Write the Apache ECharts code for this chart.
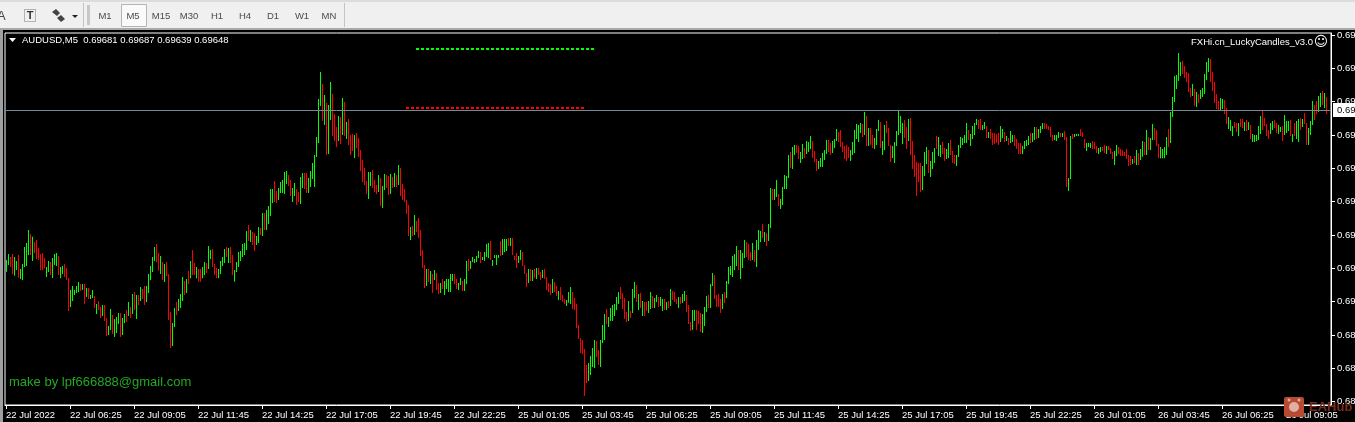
<!DOCTYPE html>
<html>
<head>
<meta charset="utf-8">
<style>html,body{margin:0;padding:0;background:#000;overflow:hidden}#c{width:1355px;height:422px}</style>
<script src="https://cdn.jsdelivr.net/npm/echarts@6/dist/echarts.min.js"></script>
</head>
<body>
<div id="c"></div>
<script>
// Prices are in points above 0.68000 (1 point = 0.00001)
const highs = [
1198,1216,1207,1216,1207,1195,1213,1171,1186,1237,1249,1288,1276,1268,1252,1258,1234,1216,1219,1204,1177,1195,1192,1204,1216,1219,1210,1177,1180,1186,
1174,1144,1108,1120,1108,1120,1132,1126,1126,1126,1114,1114,1093,1108,1090,1066,1075,1057,1063,1063,1024,1000,1051,1033,1021,1027,1039,1039,1024,1036,
1048,1072,1057,1096,1102,1093,1093,1117,1111,1120,1120,1156,1180,1207,1237,1246,1219,1210,1192,1186,1192,1156,1042,1009,1054,1072,1081,1096,1147,1135,1141,1165,
1195,1228,1189,1177,1171,1171,1177,1192,1189,1240,1228,1231,1186,1174,1171,1195,1207,1231,1237,1234,1237,1213,1168,1192,1222,1225,1246,1249,1285,1303,
1288,1282,1279,1270,1297,1294,1339,1339,1348,1360,1411,1411,1435,1405,1414,1432,1438,1462,1465,1453,1438,1414,1429,1411,1402,1447,1459,1459,1459,1444,
1465,1489,1513,1567,1681,1762,1726,1693,1669,1663,1732,1696,1636,1597,1630,1627,1684,1672,1612,1621,1573,1576,1573,1579,1564,1528,1498,1474,1435,1462,1462,1468,1438,1423,1453,
1444,1420,1456,1453,1450,1456,1447,1459,1453,1483,1474,1426,1411,1378,1363,1297,1300,1333,1315,1324,1288,1228,1183,1171,1171,1165,1156,1168,1159,1129,
1129,1141,1135,1141,1141,1156,1156,1156,1141,1129,1144,1135,1141,1195,1201,1195,1207,1201,1210,1225,1222,1207,1222,1246,1249,1255,1198,1213,1213,1213,
1255,1261,1261,1261,1264,1264,1264,1210,1219,1210,1228,1222,1183,1159,1171,1171,1168,1171,1174,1174,1162,1168,1171,1147,1129,1126,1141,1132,1120,1105,1117,1093,1081,1078,1102,
1117,1102,1084,1066,1003,964,958,931,883,889,910,934,958,955,928,958,1003,1036,1051,1027,1054,1063,1066,1087,1102,1117,1099,1084,1042,1075,
1045,1111,1132,1123,1096,1099,1075,1072,1072,1075,1102,1090,1084,1093,1087,1087,1081,1081,1072,1075,1111,1105,1102,1081,1087,1087,1096,1105,1093,1063,
1012,1048,1048,1048,1045,1039,1036,1057,1090,1093,1126,1159,1153,1093,1096,1081,1096,1102,1135,1177,1180,1210,1216,1240,1228,1228,1219,1258,1252,1246,1222,1249,1228,1258,1288,
1285,1306,1282,1279,1306,1414,1411,1411,1438,1396,1381,1417,1453,1450,1513,1522,1537,1543,1543,1540,1522,1546,1534,1555,1552,1570,1555,1525,1501,1495,
1504,1519,1528,1558,1558,1549,1555,1561,1591,1582,1588,1552,1540,1543,1537,1528,1552,1588,1606,1603,1609,1606,1642,1630,1594,1594,1573,1564,1591,1618,
1612,1555,1603,1615,1594,1543,1540,1552,1585,1645,1630,1609,1618,1597,1621,1624,1555,1513,1492,1489,1489,1480,1522,1537,1528,1495,1522,1534,1570,1567,1543,1552,1534,1531,1549,
1558,1525,1513,1513,1543,1567,1564,1573,1609,1588,1576,1600,1609,1621,1618,1621,1603,1612,1600,1582,1591,1579,1579,1576,1579,1600,1591,1582,1570,1564,
1585,1573,1573,1561,1549,1549,1540,1555,1558,1570,1579,1579,1597,1597,1591,1600,1609,1609,1606,1600,1597,1573,1573,1573,1582,1579,1579,1585,1567,1444,
1570,1576,1576,1576,1576,1591,1582,1561,1549,1549,1549,1555,1552,1540,1534,1537,1537,1543,1540,1540,1534,1522,1525,1543,1537,1531,1528,1522,1531,1513,1510,1501,1510,1528,1519,
1531,1555,1552,1588,1567,1564,1606,1594,1588,1546,1537,1531,1537,1567,1591,1642,1687,1750,1753,1819,1792,1795,1780,1762,1759,1714,1726,1711,1702,1696,
1708,1714,1756,1792,1804,1801,1762,1732,1696,1675,1684,1681,1678,1654,1627,1618,1600,1612,1609,1609,1621,1621,1612,1618,1612,1603,1576,1573,1573,1600,
1630,1648,1624,1606,1588,1609,1615,1618,1609,1603,1597,1600,1633,1615,1615,1618,1576,1609,1615,1621,1624,1621,1639,1609,1594,1615,1675,1663,1675,1690,1699,1705,1699,1687
];
const lows = [
1163,1183,1178,1156,1151,1168,1145,1141,1138,1177,1180,1213,1213,1195,1219,1201,1198,1167,1168,1173,1147,1162,1153,1144,1183,1180,1153,1143,1156,1147,
1138,1045,1057,1075,1093,1099,1102,1105,1108,1066,1087,1081,1081,1084,1054,1036,1048,1024,1030,1015,970,973,988,976,967,979,1006,967,973,1009,
1012,1030,1024,1036,1048,1021,1063,1075,1081,1063,1072,1099,1138,1162,1195,1192,1166,1156,1138,1132,1150,1018,934,940,997,1033,1045,1054,1075,1093,1099,1126,
1143,1153,1153,1143,1133,1133,1143,1153,1158,1171,1201,1177,1153,1143,1143,1156,1180,1189,1207,1189,1189,1153,1133,1162,1177,1195,1207,1213,1228,1255,
1252,1243,1225,1243,1249,1273,1270,1288,1288,1306,1330,1369,1372,1369,1378,1399,1399,1396,1426,1420,1390,1372,1390,1363,1372,1366,1414,1411,1399,1399,
1417,1441,1417,1507,1549,1660,1615,1603,1513,1516,1618,1570,1555,1537,1555,1546,1573,1570,1561,1543,1513,1525,1504,1534,1507,1465,1432,1423,1396,1381,1420,1414,1402,1396,1402,
1360,1354,1408,1414,1393,1396,1414,1417,1417,1423,1390,1378,1372,1336,1270,1258,1270,1273,1282,1264,1210,1174,1114,1120,1132,1126,1099,1138,1108,1096,
1099,1111,1093,1111,1102,1102,1135,1126,1111,1108,1123,1105,1105,1126,1165,1171,1192,1189,1192,1204,1189,1198,1195,1207,1204,1198,1180,1204,1183,1204,
1210,1213,1222,1225,1240,1240,1213,1198,1174,1189,1198,1180,1156,1117,1129,1135,1135,1144,1141,1153,1138,1144,1141,1108,1102,1093,1099,1102,1090,1078,1078,1073,1066,1060,1070,
1066,1051,1048,994,961,919,916,790,829,835,853,877,874,907,883,877,949,958,1006,997,1015,1015,1030,1048,1066,1081,1051,1021,1012,1015,
1024,1039,1084,1072,1048,1054,1030,1030,1045,1039,1051,1054,1054,1072,1057,1060,1045,1048,1048,1054,1060,1078,1072,1066,1054,1066,1069,1075,1042,1006,
985,988,1015,988,1006,982,979,1000,1042,1054,1054,1120,1081,1057,1057,1039,1051,1069,1084,1126,1153,1147,1168,1180,1168,1141,1174,1204,1207,1198,1195,1198,1192,1177,1228,
1252,1264,1252,1240,1255,1294,1378,1378,1387,1360,1351,1363,1411,1411,1444,1474,1471,1513,1519,1501,1489,1501,1504,1516,1522,1531,1504,1492,1465,1471,
1477,1477,1498,1516,1522,1513,1519,1534,1555,1552,1537,1522,1501,1495,1504,1495,1513,1519,1561,1552,1579,1567,1573,1540,1540,1543,1534,1531,1543,1585,
1534,1513,1528,1579,1540,1492,1504,1489,1540,1573,1579,1546,1564,1531,1555,1513,1471,1447,1390,1432,1402,1408,1450,1486,1459,1447,1471,1489,1531,1510,1507,1516,1495,1501,1504,
1513,1489,1486,1480,1507,1534,1543,1549,1549,1558,1540,1561,1573,1603,1591,1588,1588,1591,1564,1564,1561,1543,1546,1549,1543,1552,1564,1552,1555,1543,
1549,1552,1540,1531,1516,1516,1516,1531,1540,1543,1549,1552,1558,1561,1564,1579,1591,1591,1591,1588,1567,1555,1558,1555,1564,1567,1567,1558,1417,1405,
1441,1561,1567,1570,1570,1570,1567,1534,1525,1537,1534,1531,1531,1519,1516,1522,1525,1519,1516,1528,1516,1501,1483,1510,1516,1510,1510,1510,1501,1480,1483,1486,1489,1483,1483,
1498,1508,1513,1513,1528,1528,1558,1558,1540,1503,1503,1503,1503,1513,1537,1549,1627,1672,1711,1735,1750,1756,1744,1732,1702,1687,1690,1660,1657,1669,
1681,1687,1696,1738,1762,1732,1705,1669,1651,1645,1648,1651,1636,1606,1591,1585,1570,1594,1582,1570,1597,1594,1585,1585,1588,1561,1552,1552,1555,1558,
1576,1588,1600,1570,1561,1576,1588,1594,1579,1576,1582,1555,1573,1579,1585,1570,1552,1570,1561,1552,1588,1597,1606,1543,1543,1573,1603,1618,1636,1642,1657,1663,1654,1636
];
const directions = (
"GGRRGGRGGG" + "GGRGRRRRRR" + "GGRGGGRGGR" + "RRGGGGGRGR" + "GRGGRGRRGR" + "RGGRGGGRGG" + "RGRGRGRGRR" + "GGGGGRRGRG" + "RRRGGRGGGR" + "GR" +
"GRRGRRGGRG" + "GRRRGGGGRG" + "RRGGGGGGGR" + "GRRGGRGRGG" + "GGRRGGGGGR" + "RGGRRGGRRG" + "GGGGGGRGRG" + "GRRRGRGRGR" + "RRGRRRRRRG" + "GRRRG" +
"RGGRRGRGRG" + "RRRRRGRGRR" + "RRRGRGRGRR" + "GRGGGGGRRG" + "GRGGRGGGGG" + "RGGGGRGGGG" + "RGGGRGRRRG" + "GRRRGRGRGR" + "RGRRRRGRRG" + "RRRGG" +
"GRRRRRRRRG" + "GGGRRGGGRG" + "GGGGGRRRRG" + "RGGRGRGRRG" + "GRGGRGGRGR" + "GRRRGRGGRR" + "RGGRRRGGGR" + "GGRRRRGRGG" + "GGGGRGGGRR" + "RGRGG" +
"GRGRGGRGGR" + "GGGGGRGGRR" + "GGRGGGRRRG" + "GGGGRRGGGR" + "RRRRRGGGGG" + "GRGRGRRGGG" + "RGGRRRGGGG" + "GGRRGRRRRR" + "RGGGRGGGRG" + "GRRGG" +
"RRRGGGGGGR" + "GGGGRRGGRG" + "RRRRRGGRGR" + "GGRRRRGGGG" + "RGGRGGGRRR" + "RRGGGRGRRG" + "GRGGGRRRGG" + "GRRRGGRRGR" + "RRGGRRRRRR" + "RGRGR" +
"GGRGRGGRRR" + "GGGGRGGGGG" + "GRRRRRGRGR" + "GGGGGRRRRR" + "GGRRGGGRRG" + "RRGRGRGGGG" + "GRRRRGGRRG" + "GRGGGRGRGG" + "RGRRGGGRRG" + "GRGR"
).split("");

const slotCount = 663;
const tickEvery = 32;
const xTickLabels = ["22 Jul 2022","22 Jul 06:25","22 Jul 09:05","22 Jul 11:45","22 Jul 14:25","22 Jul 17:05","22 Jul 19:45","22 Jul 22:25","25 Jul 01:05","25 Jul 03:45","25 Jul 06:25","25 Jul 09:05","25 Jul 11:45","25 Jul 14:25","25 Jul 17:05","25 Jul 19:45","25 Jul 22:25","26 Jul 01:05","26 Jul 03:45","26 Jul 06:25","26 Jul 09:05"];
const yTickValues = [1873,1773,1673,1573,1473,1373,1273,1173,1073,973,873,773];
const yTickLabels = ["0.69","0.69","0.69","0.69","0.69","0.69","0.69","0.69","0.69","0.68","0.68","0.68"];
const currentPrice = 1648;
const greenSignal = {from: 205, to: 295, price: 1831};
const redSignal = {from: 200, to: 290, price: 1654};
const headerText = "AUDUSD,M5  0.69681 0.69687 0.69639 0.69648";
const indicatorText = "FXHi.cn_LuckyCandles_v3.0";
const makerText = "make by lpf666888@gmail.com";
const periods = ["M1","M5","M15","M30","H1","H4","D1","W1","MN"];

const FONT = '"Liberation Sans",sans-serif';
const SMALL = 9.5;
const categories = [];
for (let i = 0; i < slotCount; i++) categories.push(i % tickEvery === 0 ? xTickLabels[i / tickEvery] : "b" + i);
const barData = highs.map((h, i) => [i, lows[i], h, directions[i] === "G" ? 1 : 0]);

const chart = echarts.init(document.getElementById("c"), null, {renderer: "canvas", width: 1355, height: 422});

const grayText = "#4a4a4a";
const graphics = [
  {type: "rect", shape: {x: 0, y: 0, width: 1355, height: 28}, style: {fill: "#f0f0f0"}, z: 1},
  {type: "rect", shape: {x: 0, y: 0, width: 1355, height: 2}, style: {fill: "#dcdcdc"}, z: 2},
  {type: "rect", shape: {x: 0, y: 28, width: 1355, height: 2}, style: {fill: "#a8a8a8"}, z: 2},
  {type: "rect", shape: {x: 0, y: 30, width: 3, height: 392}, style: {fill: "#a0a0a0"}, z: 2},
  {type: "rect", shape: {x: 83, y: 3, width: 1, height: 24}, style: {fill: "#c4c4c4"}, z: 2},
  {type: "rect", shape: {x: 87, y: 5, width: 3, height: 20}, style: {fill: "#c8c8c8"}, z: 2},
  {type: "rect", shape: {x: 344, y: 3, width: 1, height: 24}, style: {fill: "#c4c4c4"}, z: 2},
  {type: "rect", shape: {x: 121.5, y: 4.5, width: 25, height: 22}, style: {fill: "#fafafa", stroke: "#b4b4b4"}, z: 2},
  {type: "text", style: {x: -3, y: 16, text: "A", fill: grayText, font: "13px " + FONT, verticalAlign: "middle"}, z: 3},
  {type: "rect", shape: {x: 24.5, y: 9.5, width: 11, height: 12}, style: {fill: "none", stroke: "#777", lineDash: [1, 1]}, z: 3},
  {type: "text", style: {x: 30, y: 16, text: "T", fill: "#333", font: "bold 11px " + FONT, align: "center", verticalAlign: "middle"}, z: 3},
  {type: "polygon", shape: {points: [[52,12],[56,9],[60,13],[57,16]]}, style: {fill: "#444"}, z: 3},
  {type: "polygon", shape: {points: [[57,18],[61,15],[65,19],[61,22]]}, style: {fill: "#444"}, z: 3},
  {type: "polygon", shape: {points: [[72,15],[78,15],[75,18]]}, style: {fill: "#222"}, z: 3},
  {type: "polygon", shape: {points: [[9,38],[16,38],[12.5,42]]}, style: {fill: "#fff"}, z: 30},
  {type: "text", style: {x: 22, y: 40.5, text: headerText, fill: "#fff", font: SMALL + "px " + FONT, verticalAlign: "middle", whiteSpace: "pre"}, z: 30},
  {type: "text", style: {x: 1313, y: 42, text: indicatorText, fill: "#fff", font: SMALL + "px " + FONT, align: "right", verticalAlign: "middle"}, z: 30},
  {type: "text", style: {x: 1321, y: 42, text: "\u263A", fill: "#fff", font: '14px "DejaVu Sans"', align: "center", verticalAlign: "middle"}, z: 30},
  {type: "text", style: {x: 9, y: 382, text: makerText, fill: "#22a822", font: '13px "Liberation Sans"', verticalAlign: "middle"}, z: 30},
  {type: "rect", shape: {x: 1284, y: 397, width: 20, height: 20, r: 2}, style: {fill: "#b84a32"}, z: 40},
  {type: "circle", shape: {cx: 1294, cy: 407, r: 5}, style: {fill: "#e0b0a4"}, z: 41},
  {type: "circle", shape: {cx: 1289, cy: 400, r: 1.5}, style: {fill: "#e0b0a4"}, z: 41},
  {type: "circle", shape: {cx: 1299, cy: 400, r: 1.5}, style: {fill: "#e0b0a4"}, z: 41},
  {type: "text", style: {x: 1309, y: 407, text: "EAHub", fill: "#7c2a1a", font: 'bold 13px "Liberation Sans"', verticalAlign: "middle"}, z: 41}
];
const periodX = [105, 133, 161, 189, 217, 245, 273, 302, 329];
periods.forEach((p, i) => graphics.push({type: "text", style: {x: periodX[i], y: 16.5, text: p, fill: grayText, font: SMALL + "px " + FONT, align: "center", verticalAlign: "middle"}, z: 3}));

chart.setOption({
  animation: false,
  backgroundColor: "#000",
  graphic: {elements: graphics},
  grid: {left: 5, top: 33, width: 1326, height: 372, show: true, borderColor: "#fff", borderWidth: 1, backgroundColor: "#000", outerBoundsMode: "none", containLabel: false},
  xAxis: {
    type: "category", data: categories, boundaryGap: true,
    axisLine: {show: true, lineStyle: {color: "#fff"}},
    axisTick: {show: true, alignWithLabel: true, length: 4, interval: i => i % tickEvery === 0, lineStyle: {color: "#fff"}},
    axisLabel: {show: true, interval: i => i % tickEvery === 0, align: "left", margin: 5, color: "#fff", fontFamily: FONT, fontSize: SMALL, hideOverlap: false},
    splitLine: {show: false}
  },
  yAxis: {
    type: "value", position: "right", min: 763, max: 1879, scale: true,
    axisLine: {show: true, lineStyle: {color: "#fff"}},
    axisTick: {show: true, length: 4, customValues: yTickValues, lineStyle: {color: "#fff"}},
    axisLabel: {show: true, customValues: yTickValues, margin: 6, color: "#fff", fontFamily: FONT, fontSize: SMALL, formatter: v => yTickLabels[yTickValues.indexOf(v)]},
    splitLine: {show: false}
  },
  series: [
    {
      type: "custom", name: "AUDUSD,M5", data: barData, clip: true,
      encode: {x: 0, y: [1, 2]},
      renderItem: (params, api) => {
        const i = api.value(0);
        const top = api.coord([i, api.value(2)]);
        const bottom = api.coord([i, api.value(1)]);
        return {type: "rect", shape: {x: Math.round(top[0]), y: top[1], width: 1, height: bottom[1] - top[1]}, style: {fill: api.value(3) ? "#00ff00" : "#ff0000"}};
      },
      markLine: {
        silent: true, symbol: "none", animation: false,
        data: [
          {yAxis: currentPrice, lineStyle: {color: "#778899", width: 1, type: "solid"},
           label: {show: true, position: "end", distance: 2, formatter: "0.69", backgroundColor: "#fff", color: "#000", fontFamily: FONT, fontSize: SMALL, padding: [2, 4, 2, 4]}},
          [{coord: [greenSignal.from, greenSignal.price], lineStyle: {color: "#00ff00", width: 2, type: [3, 2]}, label: {show: false}}, {coord: [greenSignal.to, greenSignal.price]}],
          [{coord: [redSignal.from, redSignal.price], lineStyle: {color: "#ff0000", width: 2, type: [3, 2]}, label: {show: false}}, {coord: [redSignal.to, redSignal.price]}]
        ]
      }
    }
  ]
});
</script>
</body>
</html>
